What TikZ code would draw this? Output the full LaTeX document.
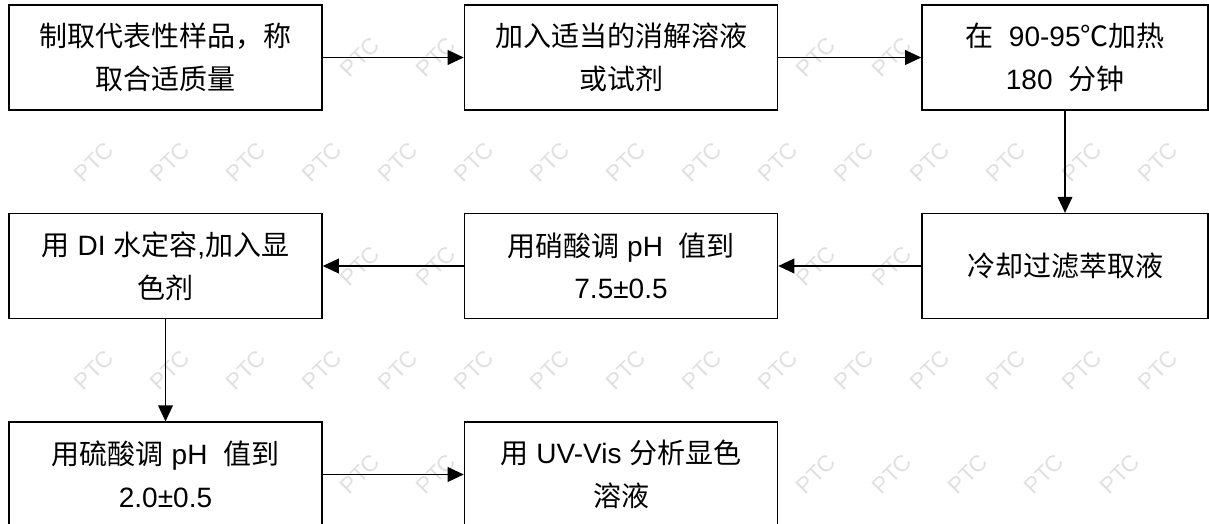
\documentclass[tikz,border=0pt]{standalone}
\usepackage{fontspec}
\setmainfont{Liberation Sans}
\newfontfamily\cjk{Noto Sans CJK SC}
\usetikzlibrary{arrows.meta}
\begin{document}
\begin{tikzpicture}[x=0.75pt,y=-0.75pt,
  box/.style={draw=black,line width=1.15pt,fill=white,minimum width=234.75pt,minimum height=78.5pt,align=center,inner sep=0pt,font=\fontsize{21}{32}\selectfont},
  narrow/.style={box,minimum width=214.5pt},
  arr/.style={-{Triangle[length=12pt,width=11pt]},line width=1.1pt},
  wm/.style={text=black!12,rotate=45,inner sep=0pt,font=\fontsize{17}{17}\selectfont}]
\useasboundingbox[fill=white] (0,0) rectangle (1209,524);
% watermark (only where it is not hidden by a box or cut at the edge)
\foreach \r/\t [count=\k] in {57/1,162/0,266/1,370/0,474/2}{
  \foreach \c in {0,...,16}{
    \pgfmathsetmacro\xx{\c*76+mod(\k,2)*38+18}
    \pgfmathtruncatemacro\hide{
      (\xx<26) || (\xx>1183) ||
      ((\t==1) && !((\xx>348 && \xx<440) || (\xx>803 && \xx<897))) ||
      ((\t==2) && ((\xx<348) || (\xx>440 && \xx<803)))}
    \ifnum\hide=0
      \node[wm] (w\k-\c) at (\xx,\r) {PTC};
    \fi
  }
}
% boxes
\node[box] (b1) at (165.5,57.5) {{\cjk 制取代表性样品，称}\\{\cjk 取合适质量}};
\node[box] (b2) at (621,57.5) {{\cjk 加入适当的消解溶液}\\{\cjk 或试剂}};
\node[narrow] (b3) at (1065,57.5) {{\cjk 在}\ \ 90-95{\cjk ℃加热}\\180\ \ {\cjk 分钟}};
\node[narrow] (b4) at (1065,266) {{\cjk 冷却过滤萃取液}};
\node[box] (b6) at (621,266) {{\cjk 用硝酸调} pH\ \ {\cjk 值到}\\7.5±0.5};
\node[box] (b5) at (165.5,266) {{\cjk 用} DI {\cjk 水定容},{\cjk 加入显}\\{\cjk 色剂}};
\node[box] (b7) at (165.5,474.5) {{\cjk 用硫酸调} pH\ \ {\cjk 值到}\\2.0±0.5};
\node[box] (b8) at (621,474.5) {{\cjk 用} UV-Vis {\cjk 分析显色}\\{\cjk 溶液}};
% connectors
\draw[arr] (b1.east) -- (b2.west);
\draw[arr] (b2.east) -- (b3.west);
\draw[arr] (b3.south) -- (b4.north);
\draw[arr] (b4.west) -- (b6.east);
\draw[arr] (b6.west) -- (b5.east);
\draw[arr] (b5.south) -- (b7.north);
\draw[arr] (b7.east) -- (b8.west);
\end{tikzpicture}
\end{document}
